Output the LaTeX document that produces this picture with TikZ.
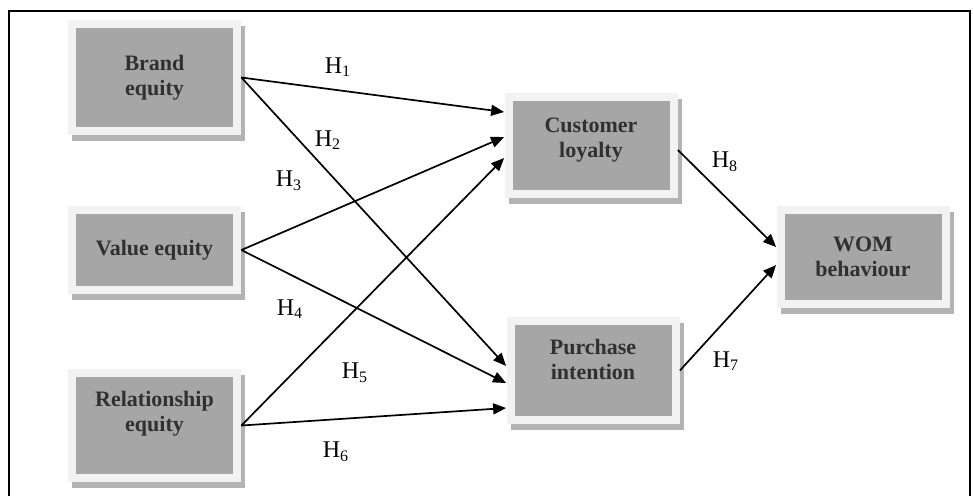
\documentclass[tikz,border=0pt]{standalone}
\usepackage{fontspec}
\setmainfont{Liberation Serif}
\usetikzlibrary{arrows.meta, shadows}
\definecolor{boxgray}{HTML}{A6A6A6}
\definecolor{boxlight}{HTML}{F2F2F2}
\definecolor{shadowgray}{HTML}{B3B3B3}
\definecolor{textgray}{HTML}{303030}
\newcommand{\hyp}[1]{H\textsubscript{#1}}
\tikzset{
  construct/.style={rectangle, fill=boxlight, minimum width=86.5pt, align=center,
    text=textgray, font=\bfseries\fontsize{11}{12.5}\selectfont,
    drop shadow={shadow xshift=2pt, shadow yshift=-3pt, fill=shadowgray, opacity=1},
    path picture={\fill[boxgray] ([shift={(4pt,4pt)}]path picture bounding box.south west)
      rectangle ([shift={(-4pt,-4pt)}]path picture bounding box.north east);}},
  link/.style={-{Triangle[length=6.5pt,width=5.5pt]}, line width=0.85pt},
  hlabel/.style={font=\fontsize{12}{13}\selectfont}
}

\begin{document}
\begin{tikzpicture}[x=0.5pt, y=-0.5pt]
\useasboundingbox (0,0) rectangle (973,495);
\draw[line width=1pt](9,500) -- (9,11) -- (970,11) -- (970,500);
% constructs
\node[construct, minimum height=57.5pt] (brand) at (154.5,77.5){Brand\\equity};
\node[construct, minimum height=44pt] (value) at (154.5,250){Value equity};
\node[construct, minimum height=56.5pt, text depth=14pt] (relation) at (154.5,425.5){Relationship\\equity};
\node[construct, minimum height=52.5pt, text depth=8pt] (loyalty) at (591,145.5){Customer\\loyalty};
\node[construct, minimum height=53.5pt, text depth=11pt] (intention) at (593,370.5){Purchase\\intention};
\node[construct, minimum height=51pt] (wom) at (863,257){WOM\\behaviour};
% paths
\draw[link](brand.east) -- ([yshift=16.75pt]loyalty.west);
\draw[link](brand.east) -- ([yshift=2.25pt]intention.west);
\draw[link](value.east) -- ([yshift=4.25pt]loyalty.west);
\draw[link](value.east) -- ([yshift=-6.25pt]intention.west);
\draw[link](relation.east) -- ([yshift=-6.25pt]loyalty.west);
\draw[link](relation.east) -- ([yshift=-18.75pt]intention.west);
\draw[link]([yshift=-2.25pt]loyalty.east) -- ([yshift=5pt]wom.west);
\draw[link](intention.east) -- ([yshift=-4pt]wom.west);
% hypotheses
\node[hlabel] (h1) at (338,67){\hyp{1}};
\node[hlabel] (h2) at (328,140){\hyp{2}};
\node[hlabel] (h3) at (289,181){\hyp{3}};
\node[hlabel] (h4) at (290,309){\hyp{4}};
\node[hlabel] (h5) at (355,373){\hyp{5}};
\node[hlabel] (h6) at (336,452){\hyp{6}};
\node[hlabel] (h7) at (726,361){\hyp{7}};
\node[hlabel] (h8) at (725,162){\hyp{8}};
\end{tikzpicture}
\end{document}
